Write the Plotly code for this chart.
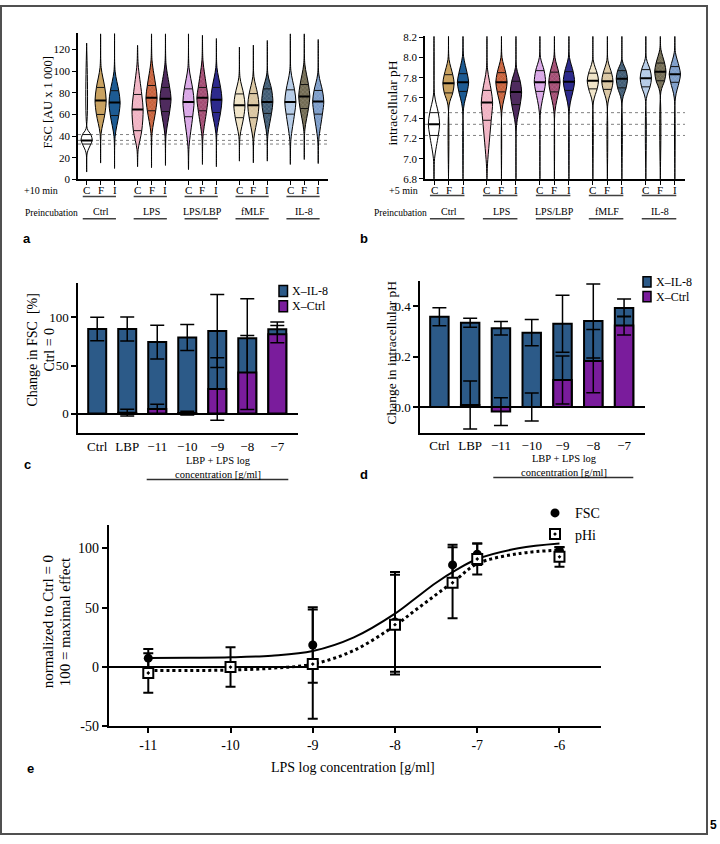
import plotly.graph_objects as go

W, H = 720, 844
def PX(x): return x / W
def PY(y): return 1 - y / H

SERIF = "Liberation Serif"
SANS = "Liberation Sans"

# ---------------- data: panels a / b (violins) ----------------
GROUPS = ["Ctrl", "LPS", "LPS/LBP", "fMLF", "IL-8"]
STIMULI = ["C", "F", "I"]

# FSC [AU x 1000]
A_MIN = [6.7, 15, 10, 11.6, 10.7, 12.8, 9, 13.7, 11.6, 16.8, 15.2, 16.8, 13.7, 18.3, 14.6]
A_LO  = [24.4, 42.6, 39.6, 27.4, 42.6, 41, 30.5, 39.6, 42.6, 39.6, 38, 41, 36.5, 45.7, 36.5]
A_Q1  = [32.6, 60, 59, 45, 63.4, 62.7, 57.9, 63.4, 61.8, 57, 57, 61, 60.3, 65.5, 60.3]
A_MED = [36, 73, 71, 64.6, 75.5, 74.6, 71.6, 75.5, 73.7, 68.5, 68.5, 71.6, 71.6, 76.7, 71.9]
A_Q3  = [41.4, 85, 82, 78.5, 86.8, 85, 83.7, 85, 85, 79, 79.3, 83.7, 82.8, 87.7, 82.2]
A_HI  = [47, 103.5, 100, 106.6, 109.6, 106.6, 103.5, 109.6, 103.5, 94.4, 95, 97.4, 100.5, 106.6, 97.4]
A_MAX = [126, 134.6, 134.8, 124, 134.6, 134.6, 134.6, 133.3, 130.3, 122.4, 124.2, 128.5, 134.6, 134.6, 129.4]

# intracellular pH
B_MIN = [6.8, 6.8, 6.8, 6.8, 6.8, 6.8, 6.8, 6.8, 6.8, 6.8, 6.8, 6.8, 6.8, 6.8, 6.8]
B_LO  = [7.0, 7.53, 7.5, 6.95, 7.48, 7.33, 7.46, 7.47, 7.5, 7.56, 7.55, 7.58, 7.595, 7.66, 7.6]
B_Q1  = [7.23, 7.65, 7.665, 7.38, 7.66, 7.535, 7.665, 7.66, 7.675, 7.69, 7.685, 7.70, 7.71, 7.77, 7.755]
B_MED = [7.34, 7.745, 7.755, 7.555, 7.755, 7.66, 7.755, 7.755, 7.76, 7.77, 7.765, 7.79, 7.795, 7.86, 7.835]
B_Q3  = [7.455, 7.83, 7.84, 7.675, 7.85, 7.765, 7.87, 7.855, 7.86, 7.845, 7.845, 7.87, 7.88, 7.945, 7.91]
B_HI  = [7.63, 7.98, 8.01, 7.885, 8.0, 7.9, 8.0, 8.0, 8.0, 7.965, 7.97, 7.965, 7.99, 8.08, 8.05]
B_MAX = [8.21, 8.21, 8.21, 8.21, 8.21, 8.21, 8.21, 8.21, 8.21, 8.21, 8.21, 8.21, 8.21, 8.21, 8.21]

# ---------------- data: panels c / d (bars) ----------------
BAR_LABELS = ["Ctrl", "LBP", "\u221211", "\u221210", "\u22129", "\u22128", "\u22127"]
C_IL8 = [88, 88, 74.4, 79.2, 86, 78.5, 87.7]
C_IL8_ERR = [12.2, 12.5, 17.5, 13.5, 38, 41, 7.5]
C_CTRL = [None, 1, 4.8, 0.5, 25.6, 42.7, 82.6]
C_CTRL_ERR = [0, 3.5, 5, 2, 32.5, 38.5, 9]

D_IL8 = [0.358, 0.334, 0.3125, 0.295, 0.33, 0.341, 0.393]
D_IL8_ERR = [0.036, 0.018, 0.027, 0.052, 0.113, 0.147, 0.035]
D_CTRL = [None, 0.008, -0.018, 0.0, 0.107, 0.182, 0.323]
D_CTRL_ERR = [0, 0.095, 0.055, 0.056, 0.095, 0.125, 0.037]

# ---------------- data: panel e ----------------
E_X = [-11, -10, -9, -8, -7.3, -7, -6]
E_FSC = [7.5, 0.5, 18.6, 38, 86, 95, 98]
E_FSC_ERR = [7.7, 2.5, 31.8, 42, 17, 9, 3]
E_PHI = [-5, 0, 2.5, 35.7, 71, 91, 92.8]
E_PHI_ERR = [16.6, 16.6, 46, 42, 30, 13, 8.3]
E_CURVE_X = [-11, -10.5, -10, -9.5, -9, -8.5, -8, -7.75, -7.5, -7.25, -7, -6.5, -6]
E_FSC_FIT = [7.6, 7.8, 8.2, 9.6, 13.5, 25, 45, 58, 71, 82, 91, 100, 104]
E_PHI_FIT = [-3, -2.9, -2.5, -1, 2.5, 14, 35, 48, 61, 74, 87, 95.5, 98.5]
E_TICKS = [-11, -10, -9, -8, -7, -6]

# ---------------- styles ----------------
VIOLIN_COLORS = ["#ffffff", "#c9a261", "#1d5b93",
                 "#f0b2c2", "#c7613b", "#4f2b5e",
                 "#d9a6e6", "#a24b72", "#2d2a8c",
                 "#efe3c6", "#d9c5a0", "#3f5b73",
                 "#b3cae6", "#716a52", "#7b9bc8"]
CHECKERED = [False, False, False, True, True, False, True, True, False,
             True, True, True, True, True, True]
WIDTH_PROFILE = [0, 0.1, 0.75, 1.0, 0.75, 0.1, 0]
GROUP_STEP = 3.65
BLUE = "#2c5a88"
PURPLE = "#7a1c9c"


def vpos(i):
    return (i // 3) * GROUP_STEP + (i % 3)


def lighten(hexc, f):
    r, g, b = int(hexc[1:3], 16), int(hexc[3:5], 16), int(hexc[5:7], 16)
    r = int(r + (255 - r) * f); g = int(g + (255 - g) * f); b = int(b + (255 - b) * f)
    return "#%02x%02x%02x" % (r, g, b)


fig = go.Figure()


def add_violins(xa, ya, mins, los, q1s, meds, q3s, his, maxs, hw):
    mx, my, qx, qy = [], [], [], []
    for i in range(15):
        c = vpos(i)
        ys = [mins[i], los[i], q1s[i], meds[i], q3s[i], his[i], maxs[i]]
        xr = [c + w * hw for w in WIDTH_PROFILE]
        xl = [c - w * hw for w in WIDTH_PROFILE]
        x = xr + xl[::-1][1:]
        y = ys + ys[::-1][1:]
        kw = {}
        if CHECKERED[i]:
            kw["fillpattern"] = dict(shape="x", size=3, solidity=0.3,
                                     fgcolor=lighten(VIOLIN_COLORS[i], 0.45),
                                     bgcolor=VIOLIN_COLORS[i])
        fig.add_trace(go.Scatter(x=x, y=y, mode="lines", fill="toself",
                                 fillcolor=VIOLIN_COLORS[i],
                                 line=dict(color="black", width=1, shape="spline", smoothing=0.9),
                                 xaxis=xa, yaxis=ya, showlegend=False, hoverinfo="skip", **kw))
        mx += [c - hw, c + hw, None]
        my += [meds[i], meds[i], None]
        for q in (q1s[i], q3s[i]):
            qx += [c - WIDTH_PROFILE[2] * hw, c + WIDTH_PROFILE[2] * hw, None]
            qy += [q, q, None]
    fig.add_trace(go.Scatter(x=qx, y=qy, mode="lines", line=dict(color="#111111", width=1),
                             xaxis=xa, yaxis=ya, showlegend=False, hoverinfo="skip"))
    fig.add_trace(go.Scatter(x=mx, y=my, mode="lines", line=dict(color="black", width=2),
                             xaxis=xa, yaxis=ya, showlegend=False, hoverinfo="skip"))


add_violins("x", "y", A_MIN, A_LO, A_Q1, A_MED, A_Q3, A_HI, A_MAX, 0.4)
add_violins("x2", "y2", B_MIN, B_LO, B_Q1, B_MED, B_Q3, B_HI, B_MAX, 0.39)


def add_bars(xa, ya, il8, il8e, ctrl, ctrle):
    xs = list(range(len(BAR_LABELS)))
    fig.add_trace(go.Bar(x=xs, y=il8, width=0.6, marker=dict(color=BLUE, line=dict(color="black", width=2)),
                         error_y=dict(type="data", array=il8e, color="black", thickness=1.5, width=7),
                         xaxis=xa, yaxis=ya, showlegend=False))
    fig.add_trace(go.Bar(x=xs, y=ctrl, width=0.6, marker=dict(color=PURPLE, line=dict(color="black", width=2)),
                         error_y=dict(type="data", array=ctrle, color="black", thickness=1.5, width=7),
                         xaxis=xa, yaxis=ya, showlegend=False))


add_bars("x3", "y3", C_IL8, C_IL8_ERR, C_CTRL, C_CTRL_ERR)
add_bars("x4", "y4", D_IL8, D_IL8_ERR, D_CTRL, D_CTRL_ERR)

# panel e
fig.add_trace(go.Scatter(x=E_CURVE_X, y=E_FSC_FIT, mode="lines",
                         line=dict(color="black", width=2, shape="spline"),
                         xaxis="x5", yaxis="y5", showlegend=False, hoverinfo="skip"))
fig.add_trace(go.Scatter(x=E_CURVE_X, y=E_PHI_FIT, mode="lines",
                         line=dict(color="black", width=3, dash="dot", shape="spline"),
                         xaxis="x5", yaxis="y5", showlegend=False, hoverinfo="skip"))
fig.add_trace(go.Scatter(x=E_X, y=E_FSC, mode="markers", name="FSC",
                         marker=dict(symbol="circle", size=9, color="black"),
                         error_y=dict(type="data", array=E_FSC_ERR, color="black", thickness=2, width=5),
                         xaxis="x5", yaxis="y5"))
fig.add_trace(go.Scatter(x=E_X, y=E_PHI, mode="markers", name="pHi",
                         marker=dict(symbol="square-dot", size=10, color="white",
                                     line=dict(color="black", width=2)),
                         error_y=dict(type="data", array=E_PHI_ERR, color="black", thickness=2, width=5),
                         xaxis="x5", yaxis="y5"))

# ---------------- axes ----------------
axis_common = dict(showgrid=False, zeroline=False, showline=True, linecolor="black",
                   ticks="outside", tickcolor="black", color="black")

vt = [vpos(i) for i in range(15)]
layout = dict(
    width=W, height=H, margin=dict(l=0, r=0, t=0, b=0),
    paper_bgcolor="white", plot_bgcolor="white", barmode="overlay",
    font=dict(family=SERIF, color="black"),
    xaxis=dict(axis_common, domain=[PX(78), PX(328)], range=[-0.62, 17.3], anchor="y",
               tickvals=vt, showticklabels=False, ticklen=4, tickwidth=1.2, linewidth=1.5),
    yaxis=dict(axis_common, domain=[PY(177), PY(28)], range=[0, 135.8], anchor="x",
               tickvals=[0, 20, 40, 60, 80, 100, 120], ticklen=4, tickwidth=1.2, linewidth=1.5,
               tickfont=dict(family=SERIF, size=11)),
    xaxis2=dict(axis_common, domain=[PX(425), PX(685)], range=[-0.62, 17.3], anchor="y2",
                tickvals=vt, showticklabels=False, ticklen=4, tickwidth=1.2, linewidth=1.5),
    yaxis2=dict(axis_common, domain=[PY(176.7), PY(31.7)], range=[6.8, 8.21], anchor="x2",
                tickvals=[6.8, 7.0, 7.2, 7.4, 7.6, 7.8, 8.0, 8.2],
                ticktext=["6.8", "7.0", "7.2", "7.4", "7.6", "7.8", "8.0", "8.2"],
                ticklen=4, tickwidth=1.2, linewidth=1.5, tickfont=dict(family=SERIF, size=11)),
    xaxis3=dict(axis_common, domain=[PX(78), PX(298.3)], range=[-0.64, 6.7], anchor="y3",
                tickvals=list(range(7)), ticktext=BAR_LABELS, ticks="", linewidth=1.5,
                tickfont=dict(family=SERIF, size=13)),
    yaxis3=dict(axis_common, domain=[PY(435), PY(282.3)], range=[-20.5, 135.9], anchor="x3",
                tickvals=[0, 50, 100], ticklen=5, tickwidth=1.5, linewidth=1.5,
                zeroline=True, zerolinecolor="black", zerolinewidth=1.5,
                tickfont=dict(family=SERIF, size=13)),
    xaxis4=dict(axis_common, domain=[PX(420), PX(645)], range=[-0.63, 6.68], anchor="y4",
                tickvals=list(range(7)), ticktext=BAR_LABELS, ticks="", linewidth=1.5,
                tickfont=dict(family=SERIF, size=13)),
    yaxis4=dict(axis_common, domain=[PY(434.3), PY(280)], range=[-0.1016, 0.501], anchor="x4",
                tickvals=[0, 0.2, 0.4], ticktext=["0.0", "0.2", "0.4"], ticklen=5, tickwidth=1.5,
                linewidth=1.5, zeroline=True, zerolinecolor="black", zerolinewidth=1.5,
                tickfont=dict(family=SERIF, size=13)),
    xaxis5=dict(axis_common, domain=[PX(108.8), PX(600.6)], range=[-11.48, -5.5], anchor="y5",
                tickvals=E_TICKS, ticktext=["%d" % t for t in E_TICKS], ticklen=5, tickwidth=2,
                linewidth=2, tickfont=dict(family=SERIF, size=14)),
    yaxis5=dict(axis_common, domain=[PY(732.7), PY(527.7)], range=[-50, 120], anchor="x5",
                tickvals=[-50, 0, 50, 100], ticktext=["-50", "0", "50", "100"], ticklen=5, tickwidth=2,
                linewidth=2, zeroline=True, zerolinecolor="black", zerolinewidth=2,
                tickfont=dict(family=SERIF, size=14)),
    legend=dict(x=PX(535), y=PY(500), xanchor="left", yanchor="top",
                font=dict(family=SERIF, size=14, color="black"), bgcolor="rgba(0,0,0,0)",
                itemwidth=30, tracegroupgap=0),
)
fig.update_layout(**layout)

# ---------------- shapes ----------------
shapes = []
# outer frame
shapes.append(dict(type="rect", xref="paper", yref="paper", x0=PX(1), x1=PX(707), y0=PY(842), y1=PY(1),
                   line=dict(color="#505050", width=2)))
# reference lines (Ctrl C quartiles)
for q in (A_Q1[0], A_MED[0], A_Q3[0]):
    shapes.append(dict(type="line", xref="x domain", yref="y", x0=0, x1=1, y0=q, y1=q, layer="below",
                       line=dict(color="#808080", width=1, dash="dot")))
for q in (B_Q1[0], B_MED[0], B_Q3[0]):
    shapes.append(dict(type="line", xref="x2 domain", yref="y2", x0=0, x1=1, y0=q, y1=q, layer="below",
                       line=dict(color="#808080", width=1, dash="dot")))
# group underlines
for xr, y1, y2 in (("x", 194.5, 217), ("x2", 193.5, 217)):
    for g in range(5):
        s = g * GROUP_STEP
        for yy in (y1, y2):
            shapes.append(dict(type="line", xref=xr, yref="paper", x0=s - 0.28, x1=s + 2.1,
                               y0=PY(yy), y1=PY(yy), line=dict(color="#404040", width=1.5)))
# concentration underlines
shapes.append(dict(type="line", xref="paper", yref="paper", x0=PX(146.7), x1=PX(288.3),
                   y0=PY(482), y1=PY(482), line=dict(color="#303030", width=1.5)))
shapes.append(dict(type="line", xref="paper", yref="paper", x0=PX(493.3), x1=PX(633.3),
                   y0=PY(480), y1=PY(480), line=dict(color="#303030", width=1.5)))
# manual legends c / d
for (x0, x1, ya, yb, col) in ((279, 287.5, 285, 296, BLUE), (279, 287.5, 300.5, 311.5, PURPLE),
                               (643, 651, 276, 286.5, BLUE), (643, 651, 291, 301.5, PURPLE)):
    shapes.append(dict(type="rect", xref="paper", yref="paper", x0=PX(x0), x1=PX(x1),
                       y0=PY(yb), y1=PY(ya), fillcolor=col, line=dict(color="black", width=1.5)))
fig.update_layout(shapes=shapes)

# ---------------- annotations ----------------
ann = []
def T(text, x, y, size, xanchor="center", angle=0, family=SERIF, bold=False):
    if bold:
        text = "<b>%s</b>" % text
    ann.append(dict(text=text, x=PX(x), y=PY(y), xref="paper", yref="paper", showarrow=False,
                    xanchor=xanchor, yanchor="middle", textangle=angle,
                    font=dict(family=family, size=size, color="black")))

# stimulus labels under violins (C / F / I)
for xr, yy in (("x", 187.5), ("x2", 187.5)):
    for i in range(15):
        ann.append(dict(text=STIMULI[i % 3], x=vpos(i), y=PY(yy), xref=xr, yref="paper",
                        showarrow=False, xanchor="center", yanchor="middle",
                        font=dict(family=SERIF, size=11, color="black")))

# panel a
T("FSC [AU x 1 000]", 48, 99, 12.5, angle=-90)
T("+10 min", 60, 188, 10, xanchor="right")
T("Preincubation", 80, 211.5, 9.5, xanchor="right")
# panel b
T("intracellular pH", 392, 99, 13.5, angle=-90)
T("+5 min", 420, 188, 10, xanchor="right")
T("Preincubation", 429, 211.5, 9.5, xanchor="right")
for xr0, step in ((86.7, 13.95), (434, 14.5)):
    for g, name in enumerate(GROUPS):
        T(name, xr0 + (g * GROUP_STEP + 1) * step, 210, 10)
# panel c
T("Change in FSC  [%]", 33, 350, 14, angle=-90)
T("Ctrl = 0", 50, 350, 14, angle=-90)
T("LBP + LPS log<br>concentration [g/ml]", 217.5, 470, 10.5)
T("X\u2013IL-8", 290, 290.5, 12, xanchor="left")
T("X\u2013Ctrl", 290, 306, 12, xanchor="left")
# panel d
T("Change in intracellular pH", 392, 353, 13.5, angle=-90)
T("LBP + LPS log<br>concentration [g/ml]", 564, 467.5, 10.5)
T("X\u2013IL-8", 653.5, 281, 12, xanchor="left")
T("X\u2013Ctrl", 653.5, 296.5, 12, xanchor="left")
# panel e
T("normalized to Ctrl = 0", 48, 627, 15, angle=-90)
T("100 = maximal effect", 65, 627, 15, angle=-90)
T("LPS log concentration [g/ml]", 353, 774, 14)
# panel letters
T("a", 27, 237, 13, family=SANS, bold=True)
T("b", 364, 237, 13, family=SANS, bold=True)
T("c", 27, 467, 13, family=SANS, bold=True)
T("d", 364, 477, 13, family=SANS, bold=True)
T("e", 30, 775, 13, family=SANS, bold=True)
T("5", 713, 833, 12, family=SANS, bold=True)
fig.update_layout(annotations=ann)

fig.write_html("out.html", config={"displayModeBar": False},
               post_script="document.body.style.margin='0px';document.body.style.padding='0px';")
